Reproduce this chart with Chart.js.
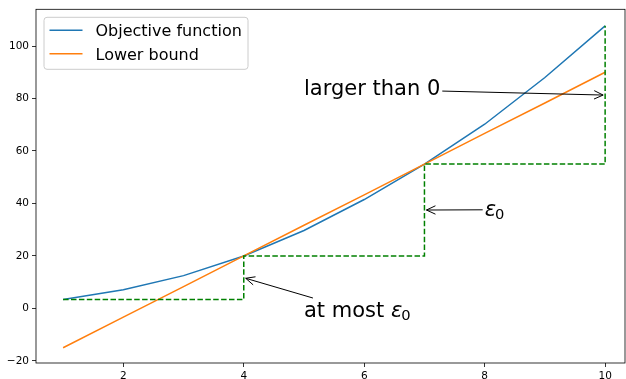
<!DOCTYPE html>
<html>
<head>
<meta charset="utf-8">
<script src="https://cdn.jsdelivr.net/npm/chart.js@4.4.0/dist/chart.umd.min.js"></script>
<style>
  html, body { margin: 0; padding: 0; background: #fff; }
  #wrap { width: 626px; height: 379px; }
</style>
</head>
<body>
<div id="wrap"><canvas id="c"></canvas></div>
<script>
const xs = [1, 2, 3, 4, 5, 6, 7, 8, 9, 10];
const objective = [3.4, 7.1, 12.5, 20.0, 29.7, 41.5, 55.0, 70.2, 88.0, 107.7];
const lowerBound = [-15.0, -3.3, 8.3, 20.0, 31.7, 43.3, 55.0, 66.7, 78.3, 90.0];
const stepX = [1, 4, 7, 10];
const stepY = [3.4, 20.0, 55.0, 107.7];
const xTicks = [2, 4, 6, 8, 10];
const yTicks = [-20, 0, 20, 40, 60, 80, 100];

// text anchor (left, baseline) and arrow tip, in data units
const notes = [
  { text: 'larger than 0', eps: false, at: [5, 81.3], tip: [10, 81.3] },
  { text: '', eps: true, at: [8, 35.4], tip: [7, 37.5] },
  { text: 'at most ', eps: true, at: [5, -3.2], tip: [4, 11.7] }
];

const FONT = '"DejaVu Sans", "Liberation Sans", sans-serif';
Chart.defaults.font.family = FONT;

function pts(xv, yv) { return xv.map((v, i) => ({ x: v, y: yv[i] })); }

function drawNote(ctx, n, x, y) {
  const size = 21;
  const px = x.getPixelForValue(n.at[0]), py = y.getPixelForValue(n.at[1]);
  ctx.fillStyle = '#000';
  ctx.textAlign = 'left';
  ctx.textBaseline = 'alphabetic';
  let cx = px;
  ctx.font = size + 'px ' + FONT;
  if (n.text) { ctx.fillText(n.text, cx, py); cx += ctx.measureText(n.text).width; }
  if (n.eps) {
    ctx.font = 'italic ' + size + 'px ' + FONT;
    ctx.fillText('\u03B5', cx, py);
    cx += ctx.measureText('\u03B5').width - 1;
    ctx.font = (size * 0.7) + 'px ' + FONT;
    ctx.fillText('0', cx, py + 3);
    cx += ctx.measureText('0').width;
  }
  const box = { l: px - 2, r: cx + 2, t: py - 0.8 * size - 2, b: py + 0.25 * size + 2 };
  const mx = (px + cx) / 2, my = py - 0.275 * size;
  const tx = x.getPixelForValue(n.tip[0]), ty = y.getPixelForValue(n.tip[1]);
  const dx = tx - mx, dy = ty - my;
  let t = 1;
  if (dx > 0) t = Math.min(t, (box.r - mx) / dx); else if (dx < 0) t = Math.min(t, (box.l - mx) / dx);
  if (dy > 0) t = Math.min(t, (box.b - my) / dy); else if (dy < 0) t = Math.min(t, (box.t - my) / dy);
  const sx = mx + dx * t, sy = my + dy * t;
  const len = Math.hypot(tx - sx, ty - sy);
  const ux = (tx - sx) / len, uy = (ty - sy) / len;
  const ex = tx - ux * 2, ey = ty - uy * 2;
  ctx.strokeStyle = '#000';
  ctx.lineWidth = 1;
  ctx.beginPath();
  ctx.moveTo(sx, sy);
  ctx.lineTo(ex, ey);
  // open head
  const hl = 9, hw = 4.2;
  ctx.moveTo(ex - ux * hl - uy * hw, ey - uy * hl + ux * hw);
  ctx.lineTo(ex, ey);
  ctx.lineTo(ex - ux * hl + uy * hw, ey - uy * hl - ux * hw);
  ctx.stroke();
}

function drawLegend(ctx, chart) {
  const a = chart.chartArea;
  const l = a.left + 8, t = a.top + 8, w = 204, h = 52;
  ctx.beginPath();
  ctx.roundRect(l, t, w, h, 3);
  ctx.fillStyle = 'rgba(255,255,255,0.8)';
  ctx.fill();
  ctx.strokeStyle = '#cccccc';
  ctx.lineWidth = 1;
  ctx.stroke();
  ctx.font = '16px ' + FONT;
  ctx.textAlign = 'left';
  ctx.textBaseline = 'alphabetic';
  chart.data.datasets.filter(d => d.label).forEach((ds, i) => {
    const yy = t + 13 + i * 23.5;
    ctx.strokeStyle = ds.borderColor;
    ctx.lineWidth = 1.5;
    ctx.beginPath();
    ctx.moveTo(l + 5.5, yy);
    ctx.lineTo(l + 38.5, yy);
    ctx.stroke();
    ctx.fillStyle = '#000';
    ctx.fillText(ds.label, l + 51.5, yy + 6);
  });
}

const overlay = {
  id: 'overlay',
  afterDatasetsDraw(chart) {
    const { ctx, chartArea: a, scales: { x, y } } = chart;
    ctx.save();
    ctx.strokeStyle = '#000';
    ctx.lineWidth = 0.8;
    ctx.strokeRect(a.left, a.top, a.right - a.left, a.bottom - a.top);
    notes.forEach(n => drawNote(ctx, n, x, y));
    drawLegend(ctx, chart);
    ctx.restore();
  }
};

const tickLabel = v => String(v).replace('-', '\u2212');

new Chart(document.getElementById('c'), {
  type: 'line',
  data: {
    datasets: [
      { label: 'Objective function', data: pts(xs, objective), borderColor: '#1f77b4', borderWidth: 1.5, pointRadius: 0, tension: 0, order: 3 },
      { label: 'Lower bound', data: pts(xs, lowerBound), borderColor: '#ff7f0e', borderWidth: 1.5, pointRadius: 0, tension: 0, order: 2 },
      { label: '', data: pts(stepX, stepY), borderColor: '#008000', borderWidth: 1.5, borderDash: [5.5, 2.4], stepped: 'before', pointRadius: 0, order: 1 }
    ]
  },
  options: {
    responsive: true,
    maintainAspectRatio: false,
    animation: false,
    layout: { padding: { top: 7, right: 1, left: 0, bottom: 0 } },
    plugins: { legend: { display: false }, tooltip: { enabled: false } },
    scales: {
      x: {
        type: 'linear', min: 0.55, max: 10.33,
        afterFit(s) { s.height = 16; },
        afterBuildTicks(s) { s.ticks = xTicks.map(v => ({ value: v })); },
        grid: { drawOnChartArea: false, tickLength: 4, color: '#000', lineWidth: 0.8 },
        border: { display: false },
        ticks: { color: '#000', font: { size: 10.5 }, padding: 3, maxRotation: 0, callback: tickLabel }
      },
      y: {
        type: 'linear', min: -20.8, max: 114,
        afterFit(s) { s.width = 36; },
        afterBuildTicks(s) { s.ticks = yTicks.map(v => ({ value: v })); },
        grid: { drawOnChartArea: false, tickLength: 4, color: '#000', lineWidth: 0.8 },
        border: { display: false },
        ticks: { color: '#000', font: { size: 10.5 }, padding: 3, callback: tickLabel }
      }
    }
  },
  plugins: [overlay]
});
</script>
</body>
</html>
